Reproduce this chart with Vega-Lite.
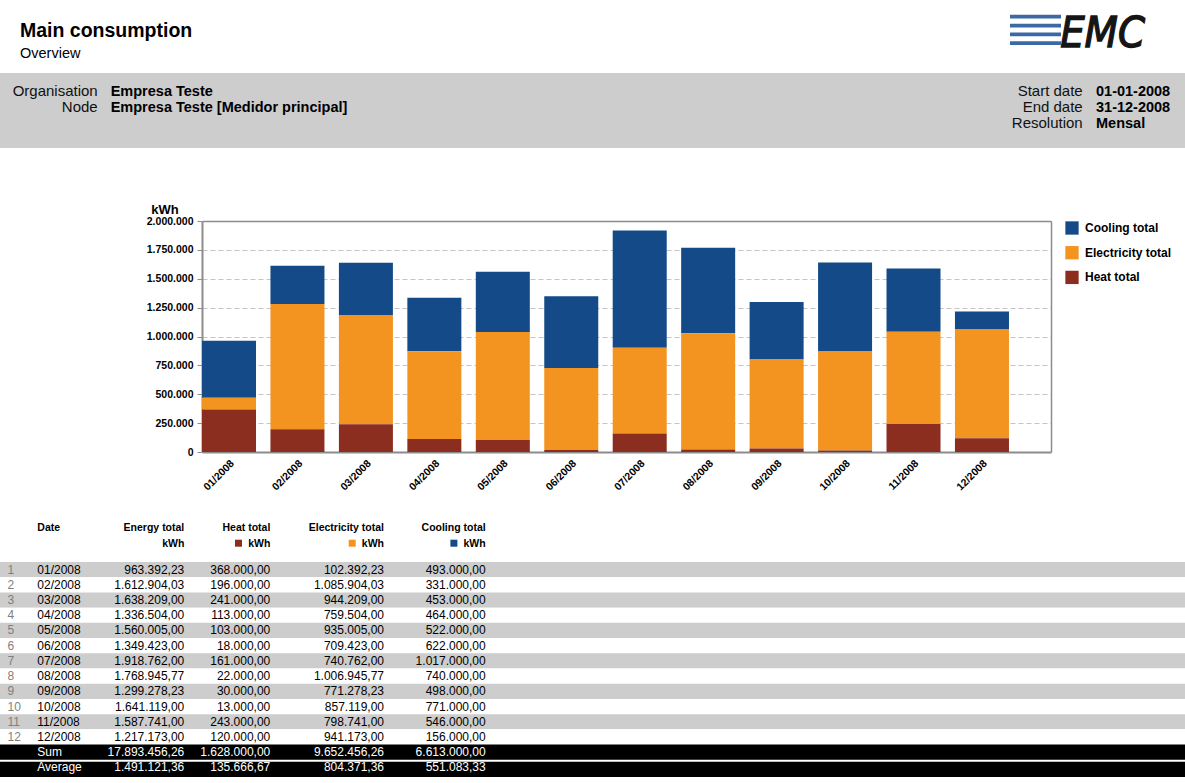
{
  "$schema": "https://vega.github.io/schema/vega-lite/v6.json",
  "padding": 0,
  "background": "white",
  "config": {
    "font": "Liberation Sans",
    "view": {"stroke": null},
    "locale": {"number": {"decimal": ",", "thousands": ".", "grouping": [3], "currency": ["", ""]}}
  },
  "datasets": {
    "table": [
      {"n": 1, "Date": "01/2008", "kind": "month", "Energy total": 963392.23, "Heat total": 368000, "Electricity total": 102392.23, "Cooling total": 493000},
      {"n": 2, "Date": "02/2008", "kind": "month", "Energy total": 1612904.03, "Heat total": 196000, "Electricity total": 1085904.03, "Cooling total": 331000},
      {"n": 3, "Date": "03/2008", "kind": "month", "Energy total": 1638209.00, "Heat total": 241000, "Electricity total": 944209.00, "Cooling total": 453000},
      {"n": 4, "Date": "04/2008", "kind": "month", "Energy total": 1336504.00, "Heat total": 113000, "Electricity total": 759504.00, "Cooling total": 464000},
      {"n": 5, "Date": "05/2008", "kind": "month", "Energy total": 1560005.00, "Heat total": 103000, "Electricity total": 935005.00, "Cooling total": 522000},
      {"n": 6, "Date": "06/2008", "kind": "month", "Energy total": 1349423.00, "Heat total": 18000, "Electricity total": 709423.00, "Cooling total": 622000},
      {"n": 7, "Date": "07/2008", "kind": "month", "Energy total": 1918762.00, "Heat total": 161000, "Electricity total": 740762.00, "Cooling total": 1017000},
      {"n": 8, "Date": "08/2008", "kind": "month", "Energy total": 1768945.77, "Heat total": 22000, "Electricity total": 1006945.77, "Cooling total": 740000},
      {"n": 9, "Date": "09/2008", "kind": "month", "Energy total": 1299278.23, "Heat total": 30000, "Electricity total": 771278.23, "Cooling total": 498000},
      {"n": 10, "Date": "10/2008", "kind": "month", "Energy total": 1641119.00, "Heat total": 13000, "Electricity total": 857119.00, "Cooling total": 771000},
      {"n": 11, "Date": "11/2008", "kind": "month", "Energy total": 1587741.00, "Heat total": 243000, "Electricity total": 798741.00, "Cooling total": 546000},
      {"n": 12, "Date": "12/2008", "kind": "month", "Energy total": 1217173.00, "Heat total": 120000, "Electricity total": 941173.00, "Cooling total": 156000},
      {"n": null, "Date": "Sum", "kind": "total", "Energy total": 17893456.26, "Heat total": 1628000.00, "Electricity total": 9652456.26, "Cooling total": 6613000.00},
      {"n": null, "Date": "Average", "kind": "total", "Energy total": 1491121.36, "Heat total": 135666.67, "Electricity total": 804371.36, "Cooling total": 551083.33}
    ]
  },
  "columns": 1,
  "spacing": 0,
  "bounds": "flush",
  "align": "none",
  "resolve": {"scale": {"color": "independent", "x": "independent", "y": "independent"}, "legend": {"color": "independent"}},
  "concat": [
    {
      "width": 1185,
      "height": 73,
      "resolve": {"scale": {"x": "independent", "y": "independent"}},
      "layer": [
        {
          "data": {"values": [
            {"slot": "left", "line": "title", "text": "Main consumption"},
            {"slot": "left", "line": "subtitle", "text": "Overview"},
            {"slot": "right", "line": "logo", "text": "EMC"}
          ]},
          "encoding": {
            "x": {"field": "slot", "type": "nominal", "scale": {"type": "point", "domain": ["left", "right"], "range": [20, 1145], "padding": 0}, "axis": null},
            "y": {"field": "line", "type": "nominal", "scale": {"type": "point", "domain": ["title", "logo", "subtitle"], "range": [37.3, 57.5], "padding": 0}, "axis": null},
            "text": {"field": "text"}
          },
          "layer": [
            {"transform": [{"filter": "datum.line === 'title'"}], "mark": {"type": "text", "align": "left", "baseline": "alphabetic", "fontSize": 19.5, "fontWeight": "bold", "color": "#000000"}},
            {"transform": [{"filter": "datum.line === 'subtitle'"}], "mark": {"type": "text", "align": "left", "baseline": "alphabetic", "fontSize": 14.5, "color": "#000000"}},
            {"transform": [{"filter": "datum.line === 'logo'"}], "mark": {"type": "text", "align": "right", "baseline": "alphabetic", "fontSize": 43, "fontStyle": "italic", "fontWeight": "normal", "font": "DejaVu Sans Condensed", "color": "#151515", "stroke": "#151515", "strokeWidth": 1.3}}
          ]
        },
        {
          "data": {"values": [
            {"stripe": 1, "from": "a", "to": "b"},
            {"stripe": 2, "from": "a", "to": "b"},
            {"stripe": 3, "from": "a", "to": "b"},
            {"stripe": 4, "from": "a", "to": "b"}
          ]},
          "mark": {"type": "rule", "strokeWidth": 3.8, "color": "#3A69A5"},
          "encoding": {
            "x": {"field": "from", "type": "nominal", "scale": {"type": "point", "domain": ["a", "b"], "range": [1010, 1061], "padding": 0}, "axis": null},
            "x2": {"field": "to"},
            "y": {"field": "stripe", "type": "ordinal", "scale": {"type": "point", "domain": [1, 2, 3, 4], "range": [16.7, 43.2], "padding": 0}, "axis": null}
          }
        }
      ]
    },
    {
      "width": 1185,
      "height": 75,
      "view": {"fill": "#CCCDCC", "stroke": null},
      "data": {"values": [
        {"group": "org", "row": 1, "label": "Organisation", "value": "Empresa Teste"},
        {"group": "org", "row": 2, "label": "Node", "value": "Empresa Teste [Medidor principal]"},
        {"group": "dates", "row": 1, "label": "Start date", "value": "01-01-2008"},
        {"group": "dates", "row": 2, "label": "End date", "value": "31-12-2008"},
        {"group": "dates", "row": 3, "label": "Resolution", "value": "Mensal"}
      ]},
      "encoding": {
        "y": {"field": "row", "type": "ordinal", "scale": {"type": "point", "domain": [1, 2, 3], "range": [22.5, 54.5], "padding": 0}, "axis": null}
      },
      "resolve": {"scale": {"x": "independent"}},
      "layer": [
        {
          "mark": {"type": "text", "align": "right", "baseline": "alphabetic", "fontSize": 15, "color": "#111111"},
          "encoding": {
            "x": {"field": "group", "type": "nominal", "scale": {"type": "point", "domain": ["org", "dates"], "range": [97.7, 1082.7], "padding": 0}, "axis": null},
            "text": {"field": "label"}
          }
        },
        {
          "mark": {"type": "text", "align": "left", "baseline": "alphabetic", "fontSize": 14.5, "fontWeight": "bold", "color": "#000000"},
          "encoding": {
            "x": {"field": "group", "type": "nominal", "scale": {"type": "point", "domain": ["org", "dates"], "range": [110.7, 1096], "padding": 0}, "axis": null},
            "text": {"field": "value"}
          }
        }
      ]
    },
    {
      "width": 1185,
      "height": 72.5,
      "data": {"values": []},
      "mark": "point"
    },
    {
      "width": 1051,
      "height": 231,
      "data": {"name": "table"},
      "transform": [
        {"filter": "datum.kind === 'month'"},
        {"fold": ["Cooling total", "Electricity total", "Heat total"], "as": ["series", "kWh"]}
      ],
      "resolve": {"axis": {"x": "independent", "y": "independent"}},
      "layer": [
        {
          "mark": {"type": "bar"},
          "encoding": {
            "x": {
              "field": "Date", "type": "ordinal", "sort": null,
              "scale": {"range": [202, 1051], "paddingInner": 0.211, "paddingOuter": 0.307, "align": 0},
              "axis": {"orient": "bottom", "title": null, "labelAngle": -45, "labelAlign": "right", "labelBaseline": "top", "labelFontSize": 10.5, "labelFontWeight": "bold", "labelColor": "#000000", "labelPadding": 6, "ticks": false, "tickSize": 0, "domainColor": "#8c8c8c", "domainWidth": 2, "grid": false}
            },
            "y": {
              "field": "kWh", "type": "quantitative", "stack": "zero",
              "scale": {"domain": [0, 2000000], "nice": false},
              "axis": {
                "orient": "left", "offset": -202,
                "values": [0, 250000, 500000, 750000, 1000000, 1250000, 1500000, 1750000, 2000000],
                "format": ",.0f",
                "title": "kWh", "titleAngle": 0, "titleAlign": "left", "titleBaseline": "alphabetic", "titleX": -51.3, "titleY": -8, "titleFontSize": 13, "titleFontWeight": "bold", "titleColor": "#000000",
                "labelFontSize": 10.5, "labelFontWeight": "bold", "labelColor": "#000000", "labelPadding": 4,
                "tickColor": "#8c8c8c", "tickSize": 5, "domainColor": "#8c8c8c", "domainWidth": 2,
                "grid": true, "gridColor": "#c4c4c4", "gridDash": [5, 3], "gridWidth": 1
              }
            },
            "color": {
              "field": "series", "type": "nominal",
              "scale": {"domain": ["Cooling total", "Electricity total", "Heat total"], "range": ["#134A87", "#F39320", "#8B2E1F"]},
              "legend": {"title": null, "orient": "right", "offset": 14, "padding": 0, "symbolType": "square", "symbolSize": 177, "symbolStrokeWidth": 0, "symbolOpacity": 1, "labelFontSize": 12, "labelFontWeight": "bold", "labelColor": "#000000", "labelOffset": 6, "rowPadding": 10.7}
            },
            "order": {"field": "series", "sort": "descending"}
          }
        },
        {
          "mark": {"type": "point", "opacity": 0},
          "encoding": {
            "x": {"field": "Date", "type": "ordinal", "sort": null,
                  "axis": {"orient": "top", "title": null, "labels": false, "ticks": false, "grid": false, "domainColor": "#8c8c8c", "domainWidth": 1.5}},
            "y": {"field": "kWh", "type": "quantitative",
                  "axis": {"orient": "right", "title": null, "labels": false, "ticks": false, "grid": false, "domainColor": "#8c8c8c", "domainWidth": 1.5}}
          }
        }
      ]
    },
    {
      "width": 1185,
      "height": 109.2,
      "data": {"values": [
        {"col": "Date", "line": 1, "text": "Date"},
        {"col": "Energy total", "line": 1, "text": "Energy total"},
        {"col": "Energy total", "line": 2, "text": "kWh"},
        {"col": "Heat total", "line": 1, "text": "Heat total"},
        {"col": "Heat total", "line": 2, "text": "kWh"},
        {"col": "Electricity total", "line": 1, "text": "Electricity total"},
        {"col": "Electricity total", "line": 2, "text": "kWh"},
        {"col": "Cooling total", "line": 1, "text": "Cooling total"},
        {"col": "Cooling total", "line": 2, "text": "kWh"}
      ]},
      "encoding": {
        "y": {"field": "line", "type": "ordinal", "scale": {"type": "point", "domain": [1, 2], "range": [79.2, 95.2], "padding": 0}, "axis": null}
      },
      "layer": [
        {"transform": [{"filter": "datum.col === 'Date'"}], "mark": {"type": "text", "align": "left", "baseline": "alphabetic", "fontSize": 10.5, "fontWeight": "bold", "color": "#000000"},
         "encoding": {"x": {"datum": 1, "type": "quantitative", "scale": {"domain": [0, 1, 2, 3, 4, 5], "range": [7.5, 37.3, 184.3, 270.3, 384, 485.7], "nice": false, "zero": false}, "axis": null}, "text": {"field": "text"}}},
        {"transform": [{"filter": "datum.col === 'Energy total'"}], "mark": {"type": "text", "align": "right", "baseline": "alphabetic", "fontSize": 10.5, "fontWeight": "bold", "color": "#000000"},
         "encoding": {"x": {"datum": 2, "type": "quantitative", "scale": {"domain": [0, 1, 2, 3, 4, 5], "range": [7.5, 37.3, 184.3, 270.3, 384, 485.7], "nice": false, "zero": false}, "axis": null}, "text": {"field": "text"}}},
        {"transform": [{"filter": "datum.col === 'Heat total'"}], "mark": {"type": "text", "align": "right", "baseline": "alphabetic", "fontSize": 10.5, "fontWeight": "bold", "color": "#000000"},
         "encoding": {"x": {"datum": 3, "type": "quantitative", "scale": {"domain": [0, 1, 2, 3, 4, 5], "range": [7.5, 37.3, 184.3, 270.3, 384, 485.7], "nice": false, "zero": false}, "axis": null}, "text": {"field": "text"}}},
        {"transform": [{"filter": "datum.col === 'Electricity total'"}], "mark": {"type": "text", "align": "right", "baseline": "alphabetic", "fontSize": 10.5, "fontWeight": "bold", "color": "#000000"},
         "encoding": {"x": {"datum": 4, "type": "quantitative", "scale": {"domain": [0, 1, 2, 3, 4, 5], "range": [7.5, 37.3, 184.3, 270.3, 384, 485.7], "nice": false, "zero": false}, "axis": null}, "text": {"field": "text"}}},
        {"transform": [{"filter": "datum.col === 'Cooling total'"}], "mark": {"type": "text", "align": "right", "baseline": "alphabetic", "fontSize": 10.5, "fontWeight": "bold", "color": "#000000"},
         "encoding": {"x": {"datum": 5, "type": "quantitative", "scale": {"domain": [0, 1, 2, 3, 4, 5], "range": [7.5, 37.3, 184.3, 270.3, 384, 485.7], "nice": false, "zero": false}, "axis": null}, "text": {"field": "text"}}},
        {"transform": [{"filter": "datum.col === 'Heat total' && datum.line === 2"}], "mark": {"type": "square", "size": 49, "filled": true, "opacity": 1, "color": "#8B2E1F", "xOffset": -31.8, "yOffset": -4},
         "encoding": {"x": {"datum": 3, "type": "quantitative", "scale": {"domain": [0, 1, 2, 3, 4, 5], "range": [7.5, 37.3, 184.3, 270.3, 384, 485.7], "nice": false, "zero": false}, "axis": null}}},
        {"transform": [{"filter": "datum.col === 'Electricity total' && datum.line === 2"}], "mark": {"type": "square", "size": 49, "filled": true, "opacity": 1, "color": "#F39320", "xOffset": -31.8, "yOffset": -4},
         "encoding": {"x": {"datum": 4, "type": "quantitative", "scale": {"domain": [0, 1, 2, 3, 4, 5], "range": [7.5, 37.3, 184.3, 270.3, 384, 485.7], "nice": false, "zero": false}, "axis": null}}},
        {"transform": [{"filter": "datum.col === 'Cooling total' && datum.line === 2"}], "mark": {"type": "square", "size": 49, "filled": true, "opacity": 1, "color": "#134A87", "xOffset": -31.8, "yOffset": -4},
         "encoding": {"x": {"datum": 5, "type": "quantitative", "scale": {"domain": [0, 1, 2, 3, 4, 5], "range": [7.5, 37.3, 184.3, 270.3, 384, 485.7], "nice": false, "zero": false}, "axis": null}}}
      ]
    },
    {
      "width": 1185,
      "height": 213,
      "data": {"name": "table"},
      "encoding": {
        "y": {"field": "Date", "type": "nominal", "sort": null, "scale": {"type": "band", "paddingInner": 0, "paddingOuter": 0}, "axis": null}
      },
      "layer": [
        {"transform": [{"filter": "datum.kind === 'month'"}], "mark": {"type": "rect"},
         "encoding": {"color": {"condition": {"test": "datum.n % 2 === 1", "value": "#CCCDCC"}, "value": "#FFFFFF"}}},
        {"transform": [{"filter": "datum.Date === 'Sum'"}], "mark": {"type": "rect", "color": "#000000"}},
        {"transform": [{"filter": "datum.Date === 'Average'"}], "mark": {"type": "rect", "color": "#000000", "yOffset": 2}},
        {"transform": [{"filter": "datum.kind === 'month'"}], "mark": {"type": "text", "align": "left", "baseline": "middle", "fontSize": 12, "color": "#7f7f7f"},
         "encoding": {"x": {"datum": 0, "type": "quantitative", "scale": {"domain": [0, 1, 2, 3, 4, 5], "range": [7.5, 37.3, 184.3, 270.3, 384, 485.7], "nice": false, "zero": false}, "axis": null}, "text": {"field": "n", "type": "nominal"}}},
        {"mark": {"type": "text", "align": "left", "baseline": "middle", "fontSize": 12},
         "encoding": {"x": {"datum": 1, "type": "quantitative", "scale": {"domain": [0, 1, 2, 3, 4, 5], "range": [7.5, 37.3, 184.3, 270.3, 384, 485.7], "nice": false, "zero": false}, "axis": null}, "text": {"field": "Date"},
                      "color": {"condition": {"test": "datum.kind === 'total'", "value": "#FFFFFF"}, "value": "#000000"}}},
        {"mark": {"type": "text", "align": "right", "baseline": "middle", "fontSize": 12},
         "encoding": {"x": {"datum": 2, "type": "quantitative", "scale": {"domain": [0, 1, 2, 3, 4, 5], "range": [7.5, 37.3, 184.3, 270.3, 384, 485.7], "nice": false, "zero": false}, "axis": null}, "text": {"field": "Energy total", "type": "quantitative", "format": ",.2f"},
                      "color": {"condition": {"test": "datum.kind === 'total'", "value": "#FFFFFF"}, "value": "#000000"}}},
        {"mark": {"type": "text", "align": "right", "baseline": "middle", "fontSize": 12},
         "encoding": {"x": {"datum": 3, "type": "quantitative", "scale": {"domain": [0, 1, 2, 3, 4, 5], "range": [7.5, 37.3, 184.3, 270.3, 384, 485.7], "nice": false, "zero": false}, "axis": null}, "text": {"field": "Heat total", "type": "quantitative", "format": ",.2f"},
                      "color": {"condition": {"test": "datum.kind === 'total'", "value": "#FFFFFF"}, "value": "#000000"}}},
        {"mark": {"type": "text", "align": "right", "baseline": "middle", "fontSize": 12},
         "encoding": {"x": {"datum": 4, "type": "quantitative", "scale": {"domain": [0, 1, 2, 3, 4, 5], "range": [7.5, 37.3, 184.3, 270.3, 384, 485.7], "nice": false, "zero": false}, "axis": null}, "text": {"field": "Electricity total", "type": "quantitative", "format": ",.2f"},
                      "color": {"condition": {"test": "datum.kind === 'total'", "value": "#FFFFFF"}, "value": "#000000"}}},
        {"mark": {"type": "text", "align": "right", "baseline": "middle", "fontSize": 12},
         "encoding": {"x": {"datum": 5, "type": "quantitative", "scale": {"domain": [0, 1, 2, 3, 4, 5], "range": [7.5, 37.3, 184.3, 270.3, 384, 485.7], "nice": false, "zero": false}, "axis": null}, "text": {"field": "Cooling total", "type": "quantitative", "format": ",.2f"},
                      "color": {"condition": {"test": "datum.kind === 'total'", "value": "#FFFFFF"}, "value": "#000000"}}}
      ]
    }
  ]
}
